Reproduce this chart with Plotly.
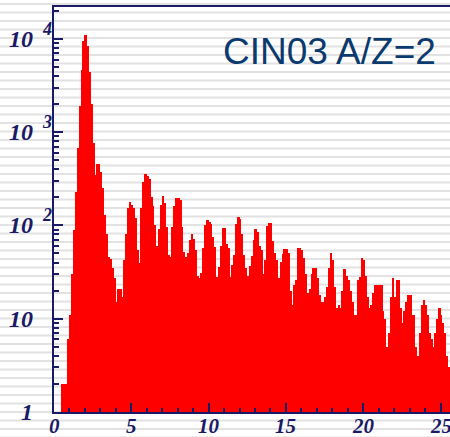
import math
import plotly.graph_objects as go

# Histogram: counts per bin, uniform bins of width 0.125 starting at 0
bin_width = 0.125
first_edge = 0.0
counts = [
    0, 0, 0, 0, 2, 2, 2, 6, 11, 30,
    90, 230, 680, 1900, 4600, 9500, 11000, 8400, 4400, 2000,
    760, 350, 450, 450, 370, 250, 130, 80, 46, 44,
    35, 27, 15, 21, 21, 17, 43, 80, 155, 176,
    165, 153, 120, 55, 40, 155, 295, 355, 340, 315,
    200, 160, 101, 60, 91, 165, 205, 173, 97, 48,
    46, 97, 160, 199, 195, 185, 97, 52, 46, 51,
    70, 81, 71, 55, 29, 27, 31, 57, 101, 115,
    110, 104, 76, 58, 28, 36, 60, 93, 93, 63,
    57, 28, 38, 48, 104, 122, 117, 80, 48, 35,
    29, 37, 47, 70, 92, 86, 60, 54, 30, 43,
    98, 106, 106, 68, 51, 43, 27, 41, 49, 56,
    56, 50, 20, 14, 23, 26, 57, 57, 55, 45,
    30, 19, 21, 30, 35, 35, 27, 18, 15, 15,
    17, 22, 35, 51, 43, 22, 13, 14, 13, 20,
    34, 29, 26, 20, 15, 11, 11, 26, 28, 45,
    43, 29, 17, 13, 14, 19, 23, 23, 23, 23,
    12, 10, 5, 7, 17, 27, 17, 26, 26, 13,
    9, 12, 15, 18, 18, 11, 11, 5, 4, 7,
    14, 16, 14, 11, 7, 6, 5, 7, 10, 13,
    11, 9, 7, 4, 3,
]

x_tick_vals = [0, 5, 10, 15, 20, 25]
x_tick_text = ["0", "5", "10", "15", "20", "25"]
y_tick_vals = [1, 10, 100, 1000, 10000]
y_base_text = ["1", "10", "10", "10", "10"]
y_exp_text = ["", "", "2", "3", "4"]
title_text = "CIN03 A/Z=2"

NAVY = "#1a1a66"
W, H = 450, 437
ML, MR, MT, MB = 54, 0, 7, 25
PW, PH = W - ML - MR, H - MT - MB

centers = [first_edge + (i + 0.5) * bin_width for i in range(len(counts))]
heights = [c if c > 0 else None for c in counts]

fig = go.Figure(
    go.Bar(
        x=centers,
        y=heights,
        width=bin_width,
        marker=dict(color="#ff0000", line=dict(width=0)),
        hoverinfo="skip",
    )
)

serif = dict(family="Liberation Serif", color=NAVY, weight="bold", style="italic")

minor_y = [m * 10 ** d for d in range(0, 5) for m in range(2, 10)]

fig.update_layout(
    width=W,
    height=H,
    margin=dict(l=ML, r=MR, t=MT, b=MB, pad=0),
    paper_bgcolor="white",
    plot_bgcolor="rgba(0,0,0,0)",
    bargap=0,
    showlegend=False,
    xaxis=dict(
        range=[0, PW / 15.46],
        showgrid=False,
        zeroline=False,
        showline=True,
        linecolor=NAVY,
        linewidth=2,
        mirror=True,
        ticks="inside",
        ticklen=9,
        tickwidth=2,
        tickcolor=NAVY,
        tickmode="array",
        tickvals=x_tick_vals,
        showticklabels=False,
        minor=dict(ticks="inside", ticklen=4, tickwidth=1.5, tickcolor=NAVY, dtick=1, showgrid=False),
        automargin=False,
    ),
    yaxis=dict(
        type="log",
        range=[0, PH / 93.3],
        showgrid=False,
        zeroline=False,
        showline=True,
        linecolor=NAVY,
        linewidth=2,
        mirror=False,
        ticks="inside",
        ticklen=9,
        tickwidth=2,
        tickcolor=NAVY,
        tickmode="array",
        tickvals=y_tick_vals,
        showticklabels=False,
        minor=dict(ticks="inside", ticklen=5, tickwidth=1.5, tickcolor=NAVY,
                   tickmode="array", tickvals=minor_y, showgrid=False),
        automargin=False,
    ),
)

# Horizontal background stripes across the whole page
shapes = []
k = 0
while True:
    py = 4 + 8.5 * k
    if py > H + 2:
        break
    yp = (H - MB - py) / PH
    shapes.append(dict(type="line", xref="paper", yref="paper",
                       x0=-ML / PW, x1=1.0, y0=yp, y1=yp,
                       line=dict(color="#e2e2e2", width=2.2), layer="below"))
    k += 1
fig.update_layout(shapes=shapes)

annotations = []
# x-axis labels, centred under the major ticks
for v, t in zip(x_tick_vals, x_tick_text):
    annotations.append(dict(
        text=t, xref="x", yref="paper", x=v, y=(H - MB - 426) / PH,
        xanchor="center", yanchor="middle", showarrow=False,
        font=dict(size=21, **serif)))

# y-axis labels: base and raised exponent
for v, base, ex in zip(y_tick_vals, y_base_text, y_exp_text):
    annotations.append(dict(
        text=base, xref="paper", yref="y", x=(35 - ML) / PW, y=math.log10(v),
        xanchor="right", yanchor="middle", showarrow=False,
        font=dict(size=24, **serif)))
    if ex:
        annotations.append(dict(
            text=ex, xref="paper", yref="y", x=(40 - ML) / PW, y=math.log10(v),
            xanchor="left", yanchor="middle", yshift=10, showarrow=False,
            font=dict(size=18, **serif)))

annotations.append(dict(
    text=title_text, xref="paper", yref="paper",
    x=(438 - ML) / PW, y=(H - MB - 51.5) / PH,
    xanchor="right", yanchor="middle", showarrow=False,
    font=dict(family="Liberation Sans", size=37, color="#0b3a6e")))
fig.update_layout(annotations=annotations)

fig.write_html("out.html")
